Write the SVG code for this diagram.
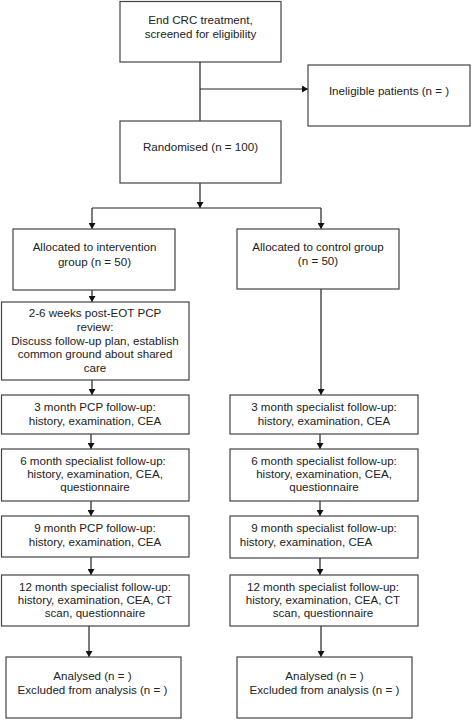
<svg xmlns="http://www.w3.org/2000/svg" width="472" height="720" viewBox="0 0 472 720">
<defs>
<marker id="ah" markerWidth="7" markerHeight="7" refX="6" refY="3.5" orient="auto" markerUnits="userSpaceOnUse">
<path d="M0,0 L6,3.5 L0,7 Z" fill="#111"/>
</marker>
<style>
rect{fill:#fff;stroke:#444;stroke-width:1.2}
text{font-family:"Liberation Sans",Arial,sans-serif;font-size:11.6px;fill:#222;text-anchor:middle}
#connectors line,#connectors polyline{stroke:#222;stroke-width:1.2;fill:none}
</style>
</defs>
<rect x="0" y="0" width="472" height="720" style="stroke:none"/>
<g id="connectors">
<line x1="200" y1="62" x2="200" y2="121"/>
<line x1="200" y1="89" x2="308" y2="89" marker-end="url(#ah)"/>
<line x1="200" y1="183" x2="200" y2="208" marker-end="url(#ah)"/>
<line x1="92" y1="208" x2="321" y2="208"/>
<line x1="92" y1="208" x2="92" y2="229" marker-end="url(#ah)"/>
<line x1="321" y1="208" x2="321" y2="229" marker-end="url(#ah)"/>
<line x1="92" y1="290" x2="92" y2="302" marker-end="url(#ah)"/>
<line x1="92" y1="380" x2="92" y2="395" marker-end="url(#ah)"/>
<line x1="91" y1="434" x2="91" y2="449" marker-end="url(#ah)"/>
<line x1="91" y1="501" x2="91" y2="516" marker-end="url(#ah)"/>
<line x1="91" y1="557" x2="91" y2="575" marker-end="url(#ah)"/>
<line x1="89" y1="626" x2="89" y2="657" marker-end="url(#ah)"/>
<line x1="321" y1="289" x2="321" y2="395" marker-end="url(#ah)"/>
<line x1="320" y1="434" x2="320" y2="449" marker-end="url(#ah)"/>
<line x1="320" y1="501" x2="320" y2="516" marker-end="url(#ah)"/>
<line x1="320" y1="558" x2="320" y2="575" marker-end="url(#ah)"/>
<line x1="321" y1="626" x2="321" y2="657" marker-end="url(#ah)"/>
</g>
<g id="n-start"><rect x="120" y="1.5" width="161" height="60.5"/><text x="200.5" y="24">End CRC treatment,</text><text x="200.5" y="38">screened for eligibility</text></g>
<g id="n-inelig"><rect x="308" y="65" width="162" height="61"/><text x="389" y="95">Ineligible patients (n = )</text></g>
<g id="n-rand"><rect x="120" y="121" width="161" height="62"/><text x="200.5" y="151">Randomised (n = 100)</text></g>
<g id="n-int"><rect x="13" y="229" width="162" height="61"/><text x="94.5" y="251">Allocated to intervention</text><text x="94.5" y="266">group (n = 50)</text></g>
<g id="n-ctl"><rect x="237" y="229" width="162" height="60"/><text x="318" y="251">Allocated to control group</text><text x="318" y="265">(n = 50)</text></g>
<g id="n-review"><rect x="1.5" y="302" width="187.5" height="78"/><text x="95" y="317">2-6 weeks post-EOT PCP</text><text x="95" y="331">review:</text><text x="95" y="345">Discuss follow-up plan, establish</text><text x="95" y="358">common ground about shared</text><text x="95" y="372">care</text></g>
<g id="n-l3"><rect x="1.5" y="395" width="187.5" height="39"/><text x="95" y="411">3 month PCP follow-up:</text><text x="95" y="425">history, examination, CEA</text></g>
<g id="n-l6"><rect x="1.5" y="449" width="187.5" height="52"/><text x="93" y="465">6 month specialist follow-up:</text><text x="95" y="478">history, examination, CEA,</text><text x="95" y="491">questionnaire</text></g>
<g id="n-l9"><rect x="1.5" y="516" width="187.5" height="41"/><text x="95" y="532">9 month PCP follow-up:</text><text x="95" y="546">history, examination, CEA</text></g>
<g id="n-l12"><rect x="1.5" y="575" width="187.5" height="51"/><text x="95" y="591">12 month specialist follow-up:</text><text x="95" y="604">history, examination, CEA, CT</text><text x="95" y="617">scan, questionnaire</text></g>
<g id="n-lan"><rect x="6" y="657" width="175" height="61"/><text x="92.5" y="680">Analysed (n = )</text><text x="92.5" y="694">Excluded from analysis (n = )</text></g>
<g id="n-r3"><rect x="230" y="395" width="188" height="39"/><text x="324" y="411">3 month specialist follow-up:</text><text x="324" y="425">history, examination, CEA</text></g>
<g id="n-r6"><rect x="230" y="449" width="188" height="52"/><text x="324" y="465">6 month specialist follow-up:</text><text x="324" y="478">history, examination, CEA,</text><text x="324" y="491">questionnaire</text></g>
<g id="n-r9"><rect x="230" y="516" width="188" height="42"/><text x="324" y="532">9 month specialist follow-up:</text><text x="306" y="546">history, examination, CEA</text></g>
<g id="n-r12"><rect x="230" y="575" width="188" height="51"/><text x="323" y="591">12 month specialist follow-up:</text><text x="323" y="604">history, examination, CEA, CT</text><text x="323" y="617">scan, questionnaire</text></g>
<g id="n-ran"><rect x="237" y="657" width="175" height="61"/><text x="324.5" y="680">Analysed (n = )</text><text x="324.5" y="694">Excluded from analysis (n = )</text></g>
</svg>
